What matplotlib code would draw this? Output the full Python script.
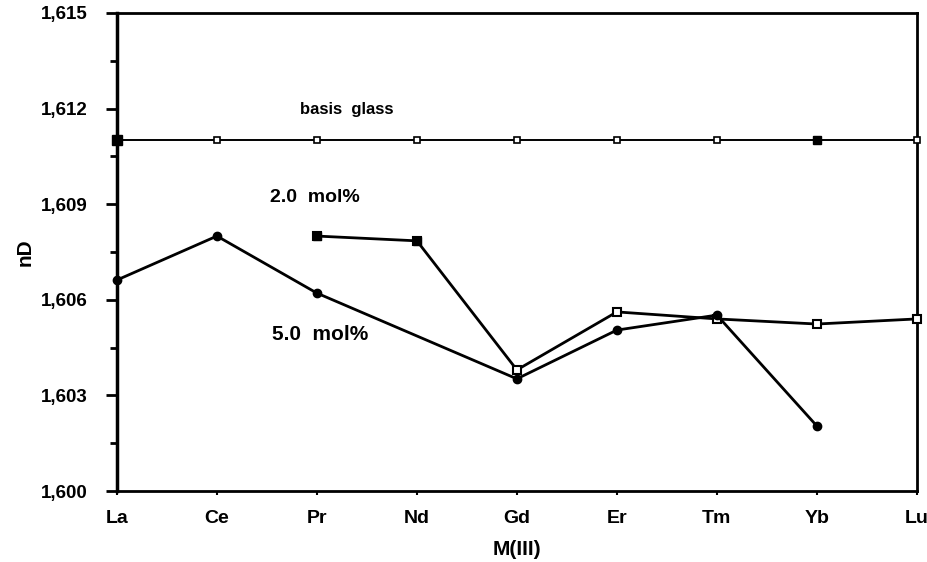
import matplotlib
matplotlib.use("Agg")
import matplotlib.pyplot as plt
from matplotlib.ticker import FixedLocator, FuncFormatter

categories = ["La", "Ce", "Pr", "Nd", "Gd", "Er", "Tm", "Yb", "Lu"]
basis_glass = [1.611, 1.611, 1.611, 1.611, 1.611, 1.611, 1.611, 1.611, 1.611]
mol2 = [None, None, 1.6080, 1.60785, 1.6038, 1.60562, 1.6054, 1.60524, 1.6054]
mol5 = [1.60662, 1.6080, 1.60621, None, 1.60352, 1.60505, 1.60552, 1.60204, None]
y_major = [1.600, 1.603, 1.606, 1.609, 1.612, 1.615]
y_minor = [1.6015, 1.6045, 1.6075, 1.6105, 1.6135]

plt.rcParams['font.family'] = ['Liberation Sans', 'DejaVu Sans']

fig = plt.figure(figsize=(9.28, 5.62), dpi=100)
ax = fig.add_axes([0.126, 0.1263, 0.862, 0.8506])

def pts(vals):
    xs = [i for i, v in enumerate(vals) if v is not None]
    ys = [v for v in vals if v is not None]
    return xs, ys

xb, yb = pts(basis_glass)
ax.plot(xb, yb, color="black", lw=1.4, marker="s", ms=5, mfc="white", mec="black", mew=1.2, zorder=3, clip_on=False)
ax.plot([0], [basis_glass[0]], marker="s", ms=7, color="black", clip_on=False, zorder=4)
ax.plot([7], [basis_glass[7]], marker="s", ms=6, color="black", clip_on=False, zorder=4)

x2, y2 = pts(mol2)
ax.plot(x2, y2, color="black", lw=2.0, marker="s", ms=6, mfc="white", mec="black", mew=1.5, zorder=3, clip_on=False)
ax.plot(x2[:2], y2[:2], ls="none", marker="s", ms=6, color="black", zorder=4)

x5, y5 = pts(mol5)
ax.plot(x5, y5, color="black", lw=2.0, marker="o", ms=6, zorder=3, clip_on=False)

ax.set_xlim(0, 8)
ax.set_ylim(1.600, 1.615)
ax.set_xticks(range(len(categories)))
ax.set_xticklabels(categories, fontsize=14, fontweight="bold")
ax.yaxis.set_major_locator(FixedLocator(y_major))
ax.yaxis.set_minor_locator(FixedLocator(y_minor))
ax.yaxis.set_major_formatter(FuncFormatter(lambda v, p: f"{v:.3f}".replace(".", ",")))
for lab in ax.get_yticklabels():
    lab.set_fontweight("bold")
    lab.set_fontsize(13.5)
ax.tick_params(axis="y", which="major", direction="out", length=8, width=2, pad=13)
ax.tick_params(axis="y", which="minor", direction="out", length=5, width=2)
ax.tick_params(axis="x", which="major", direction="out", length=3, width=1.5, pad=11)
for s in ax.spines.values():
    s.set_linewidth(2)
ax.spines["left"].set_linewidth(2.5)

ax.set_ylabel("nD", fontsize=15, fontweight="bold")
ax.yaxis.set_label_coords(-0.103, 0.5)
ax.set_xlabel("M(III)", fontsize=15, fontweight="bold", labelpad=9)

ax.text(2.3, 1.61196, "basis  glass", fontsize=12, fontweight="bold", ha="center", va="center")
ax.text(1.98, 1.6092, "2.0  mol%", fontsize=14, fontweight="bold", ha="center", va="center")
ax.text(2.03, 1.6049, "5.0  mol%", fontsize=15, fontweight="bold", ha="center", va="center")

fig.savefig("out.png", dpi=100)
